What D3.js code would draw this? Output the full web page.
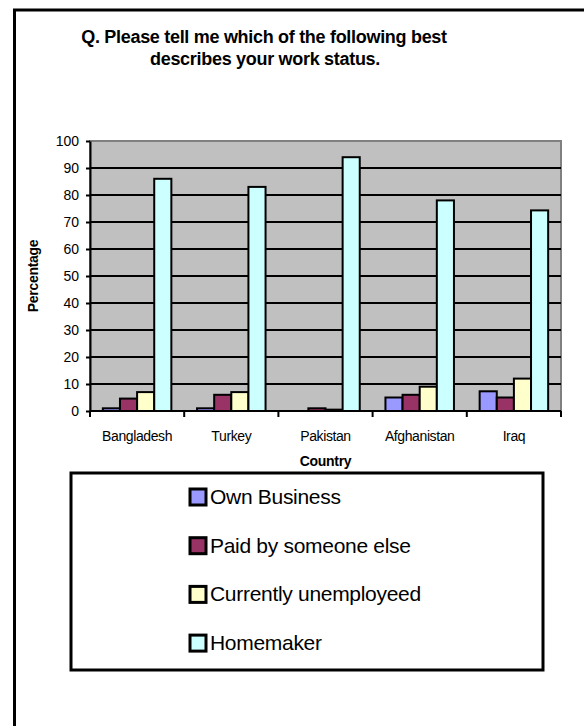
<!DOCTYPE html>
<html>
<head>
<meta charset="utf-8">
<script src="https://cdn.jsdelivr.net/npm/d3@7"></script>
<style>
  body { margin: 0; background: #fff; }
  svg { display: block; font-family: Arial, "Liberation Sans", sans-serif; }
</style>
</head>
<body>
<div id="chart"></div>
<script>
var countries = ["Bangladesh", "Turkey", "Pakistan", "Afghanistan", "Iraq"];
var seriesNames = ["Own Business", "Paid by someone else", "Currently unemployeed", "Homemaker"];
var ownBusiness = [1, 1, 0, 5, 7.3];
var paidBySomeone = [4.6, 6, 1, 6, 5];
var unemployed = [7, 7, 0.5, 9, 12];
var homemaker = [86, 83, 94, 78, 74.3];
var yTicks = [0, 10, 20, 30, 40, 50, 60, 70, 80, 90, 100];
var colors = ["#9999ff", "#993366", "#ffffcc", "#ccffff"];

var width = 584, height = 726;
var margin = { top: 141, right: 23, bottom: 315, left: 90 };
var plotW = width - margin.left - margin.right;
var plotH = height - margin.top - margin.bottom;

var svg = d3.select("#chart").append("svg")
    .attr("width", width)
    .attr("height", height);

// outer frame (runs past the window on the right and bottom)
svg.append("rect")
    .attr("x", 14.5).attr("y", 10)
    .attr("width", 600).attr("height", 760)
    .attr("fill", "none").attr("stroke", "#000").attr("stroke-width", 3);

// title
var title = svg.append("text")
    .attr("text-anchor", "middle")
    .attr("font-weight", "bold")
    .attr("font-size", 18)
    .attr("letter-spacing", -0.3);
title.append("tspan").attr("x", 264).attr("y", 43).text("Q. Please tell me which of the following best");
title.append("tspan").attr("x", 265).attr("y", 65).text("describes your work status.");

var g = svg.append("g")
    .attr("transform", `translate(${margin.left}, ${margin.top})`);

var data = countries.map(function (c, i) {
    return { country: c, values: [ownBusiness[i], paidBySomeone[i], unemployed[i], homemaker[i]] };
});

var x0 = d3.scaleBand().domain(countries).range([0, plotW]).paddingInner(0).paddingOuter(0);
var x1 = d3.scaleBand().domain(d3.range(seriesNames.length)).range([0, x0.bandwidth()])
    .paddingInner(0).paddingOuter(0.75);
var y = d3.scaleLinear().domain([0, 100]).range([plotH, 0]);

// plot background
g.append("rect")
    .attr("width", plotW).attr("height", plotH)
    .attr("fill", "#c0c0c0")
    .attr("stroke", "#808080").attr("stroke-width", 2);

// gridlines
g.append("g").selectAll("line")
    .data(yTicks.filter(function (d) { return d > 0 && d < 100; }))
    .enter().append("line")
    .attr("x1", 0).attr("x2", plotW)
    .attr("y1", function (d) { return y(d); })
    .attr("y2", function (d) { return y(d); })
    .attr("stroke", "#000").attr("stroke-width", 2);

// bars
var groups = g.append("g").selectAll("g")
    .data(data)
    .enter().append("g")
    .attr("transform", function (d) { return `translate(${x0(d.country)}, 0)`; });

groups.selectAll("rect")
    .data(function (d) { return d.values.map(function (v, i) { return { i: i, v: v }; }); })
    .enter().append("rect")
    .attr("x", function (d) { return x1(d.i); })
    .attr("y", function (d) { return y(d.v); })
    .attr("width", x1.bandwidth())
    .attr("height", function (d) { return plotH - y(d.v); })
    .attr("fill", function (d) { return colors[d.i]; })
    .attr("stroke", "#000").attr("stroke-width", 2);

// y axis
var yAxis = g.append("g")
    .call(d3.axisLeft(y).tickValues(yTicks).tickSize(4).tickPadding(7).tickSizeOuter(0));
yAxis.select(".domain").attr("stroke-width", 2);
yAxis.selectAll(".tick line").attr("stroke-width", 2);
yAxis.selectAll("text").attr("font-size", 14).attr("font-family", "Arial, 'Liberation Sans', sans-serif");

// x axis: ticks at category boundaries
var xAxis = g.append("g").attr("transform", `translate(0, ${plotH})`);
xAxis.append("line")
    .attr("x1", 0).attr("x2", plotW)
    .attr("stroke", "#000").attr("stroke-width", 2);
xAxis.selectAll(".bound")
    .data(countries.concat([null]))
    .enter().append("line")
    .attr("class", "bound")
    .attr("x1", function (d, i) { return i * x0.step(); })
    .attr("x2", function (d, i) { return i * x0.step(); })
    .attr("y1", 0).attr("y2", 6)
    .attr("stroke", "#000").attr("stroke-width", 2);
xAxis.selectAll(".lbl")
    .data(countries)
    .enter().append("text")
    .attr("class", "lbl")
    .attr("x", function (d) { return x0(d) + x0.bandwidth() / 2; })
    .attr("y", 30)
    .attr("text-anchor", "middle")
    .attr("font-size", 14)
    .attr("letter-spacing", -0.4)
    .text(function (d) { return d; });

// axis titles
svg.append("text")
    .attr("x", margin.left + plotW / 2)
    .attr("y", 466)
    .attr("text-anchor", "middle")
    .attr("font-weight", "bold")
    .attr("font-size", 14)
    .attr("letter-spacing", -0.3)
    .text("Country");

svg.append("text")
    .attr("transform", `translate(38, ${margin.top + plotH / 2}) rotate(-90)`)
    .attr("text-anchor", "middle")
    .attr("font-weight", "bold")
    .attr("font-size", 14)
    .attr("letter-spacing", -0.3)
    .text("Percentage");

// legend
var legend = svg.append("g");
legend.append("rect")
    .attr("x", 71).attr("y", 473)
    .attr("width", 472).attr("height", 197)
    .attr("fill", "#fff").attr("stroke", "#000").attr("stroke-width", 3);

var items = legend.selectAll(".item")
    .data(seriesNames)
    .enter().append("g")
    .attr("class", "item")
    .attr("transform", function (d, i) { return `translate(190, ${489 + i * 48.7})`; });
items.append("rect")
    .attr("width", 16).attr("height", 16)
    .attr("fill", function (d, i) { return colors[i]; })
    .attr("stroke", "#000").attr("stroke-width", 3);
items.append("text")
    .attr("x", 20).attr("y", 15)
    .attr("font-size", 21)
    .attr("letter-spacing", -0.3)
    .text(function (d) { return d; });
</script>
</body>
</html>
